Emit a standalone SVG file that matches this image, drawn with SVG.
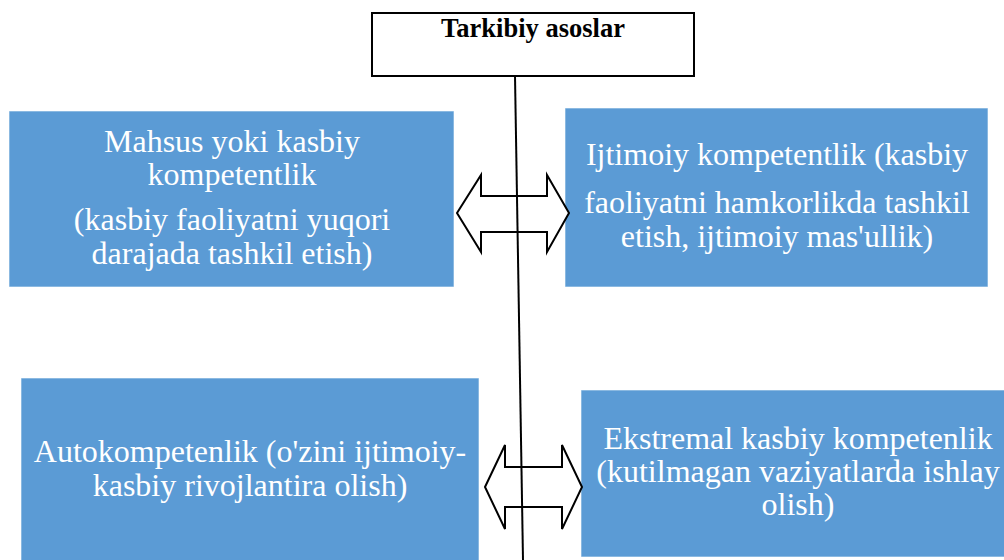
<svg xmlns="http://www.w3.org/2000/svg" width="1004" height="560" viewBox="0 0 1004 560">
<style>
.box{fill:#5B9BD5;stroke:#5B9BD5;stroke-opacity:0.4;stroke-width:1}
.t{font-family:"Liberation Serif","Times New Roman",serif;font-size:32px;fill:#ffffff;text-anchor:middle}
.title{font-family:"Liberation Serif","Times New Roman",serif;font-size:26.5px;font-weight:bold;fill:#000;text-anchor:middle}
.arr{fill:#ffffff;stroke:#000;stroke-width:2;stroke-linejoin:miter}
</style>
<rect width="1004" height="560" fill="#ffffff"/>
<g id="n1">
<rect class="box" x="9.5" y="111.5" width="444" height="175"/>
<text class="t" x="232" y="152">Mahsus yoki kasbiy</text>
<text class="t" x="232" y="185">kompetentlik</text>
<text class="t" x="232" y="230">(kasbiy faoliyatni yuqori</text>
<text class="t" x="232" y="264">darajada tashkil etish)</text>
</g>
<g id="n2">
<rect class="box" x="565.5" y="108.5" width="422" height="178"/>
<text class="t" x="777" y="165">Ijtimoiy kompetentlik (kasbiy</text>
<text class="t" x="777" y="213">faoliyatni hamkorlikda tashkil</text>
<text class="t" x="777" y="247">etish, ijtimoiy mas'ullik)</text>
</g>
<g id="n3">
<rect class="box" x="21.5" y="378.5" width="457" height="190"/>
<text class="t" x="250" y="462">Autokompetenlik (o'zini ijtimoiy-</text>
<text class="t" x="250" y="496">kasbiy rivojlantira olish)</text>
</g>
<g id="n4">
<rect class="box" x="581.5" y="390.5" width="430" height="166"/>
<text class="t" x="798" y="449">Ekstremal kasbiy kompetenlik</text>
<text class="t" x="798" y="482">(kutilmagan vaziyatlarda ishlay</text>
<text class="t" x="798" y="515">olish)</text>
</g>
<g id="connectors">
<path class="arr" d="M457,213 L481,175 L481,196 L547,196 L547,175 L569,213 L547,252 L547,232 L481,232 L481,252 Z"/>
<path class="arr" d="M485,487 L505,445 L505,467 L562,467 L562,445 L582,487 L562,529 L562,507 L505,507 L505,529 Z"/>
<line x1="515" y1="76" x2="523" y2="560" stroke="#000" stroke-width="2"/>
</g>
<g id="n0">
<rect x="372" y="13" width="322" height="63" fill="#ffffff" stroke="#000" stroke-width="2"/>
<text class="title" x="533" y="37">Tarkibiy asoslar</text>
</g>
</svg>
